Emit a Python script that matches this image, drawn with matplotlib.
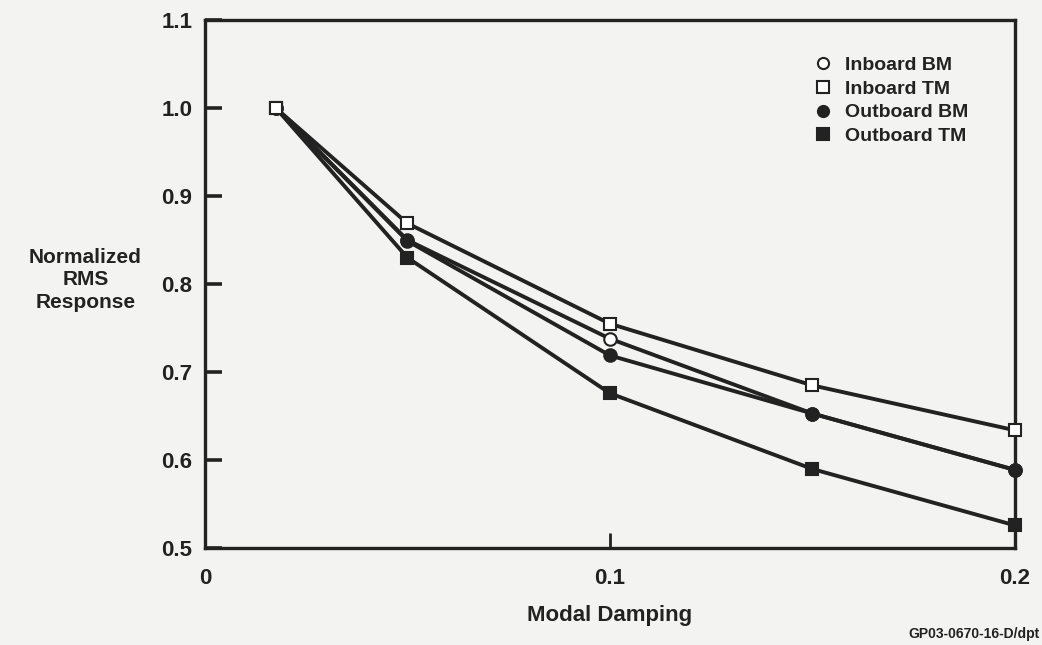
#!/usr/bin/env python3
import matplotlib
matplotlib.use('Agg')
import matplotlib.pyplot as plt

# Modal damping values (x) and normalized RMS response for each case
damping = [0.0175, 0.05, 0.1, 0.15, 0.2]
inboard_bm = [1.0, 0.85, 0.738, 0.653, 0.589]
inboard_tm = [1.0, 0.869, 0.755, 0.685, 0.634]
outboard_bm = [1.0, 0.849, 0.719, 0.653, 0.589]
outboard_tm = [1.0, 0.830, 0.676, 0.590, 0.526]

xticks = [0, 0.1, 0.2]
xtick_labels = ['0', '0.1', '0.2']
yticks = [0.5, 0.6, 0.7, 0.8, 0.9, 1.0, 1.1]

ink = '#222222'
bg = '#f3f3f1'

plt.rcParams['font.family'] = ['Liberation Sans', 'DejaVu Sans']
plt.rcParams['font.weight'] = 'bold'

fig = plt.figure(figsize=(10.42, 6.45), dpi=100, facecolor=bg)
ax = fig.add_axes([0.1967, 0.150, 0.7773, 0.819])
ax.set_facecolor(bg)

# draw each series: line + marker (inboard TM on top, as in the original)
series = [
    (inboard_bm, 'o', 'white', 'Inboard BM', 3),
    (inboard_tm, 's', 'white', 'Inboard TM', 6),
    (outboard_bm, 'o', ink, 'Outboard BM', 4),
    (outboard_tm, 's', ink, 'Outboard TM', 5),
]
for vals, mk, face, lab, z in series:
    ax.plot(damping, vals, color=ink, linewidth=2.8, marker=mk,
            markersize=9, markerfacecolor=face, markeredgecolor=ink,
            markeredgewidth=1.5, label=lab, clip_on=False, zorder=z)

ax.set_xlim(0, 0.2)
ax.set_ylim(0.5, 1.1)
ax.set_xticks(xticks)
ax.set_xticklabels(xtick_labels)
ax.set_yticks(yticks)
ax.set_yticklabels(['%.1f' % v for v in yticks])

for sp in ax.spines.values():
    sp.set_linewidth(2.4)
    sp.set_color(ink)

ax.tick_params(axis='x', direction='in', length=11, width=2.0,
               colors=ink, labelsize=16, pad=14)
ax.tick_params(axis='y', direction='in', length=12, width=2.4,
               colors=ink, labelsize=16, pad=9)
for tl in ax.yaxis.get_ticklines():
    tl.set_markeredgewidth(2.6)
    tl.set_color(ink)

ax.set_xlabel('Modal Damping', fontsize=16, color=ink, labelpad=12,
              fontweight='bold')

fig.text(0.082, 0.566, 'Normalized\nRMS\nResponse', ha='center',
         va='center', fontsize=15, color=ink, linespacing=1.25,
         fontweight='bold')

leg = ax.legend(loc='upper left', bbox_to_anchor=(0.74, 0.95),
                frameon=False, handlelength=0.9, handletextpad=0.7,
                labelspacing=0.32, borderpad=0,
                prop={'size': 14, 'weight': 'bold'})
for line in leg.get_lines():
    line.set_linestyle('None')
    line.set_markersize(8)
for txt in leg.get_texts():
    txt.set_color(ink)

fig.text(0.998, 0.006, 'GP03-0670-16-D/dpt', ha='right', va='bottom',
         fontsize=10, color=ink, fontweight='bold')

plt.savefig('out.png', dpi=100, facecolor=bg)
plt.close()
